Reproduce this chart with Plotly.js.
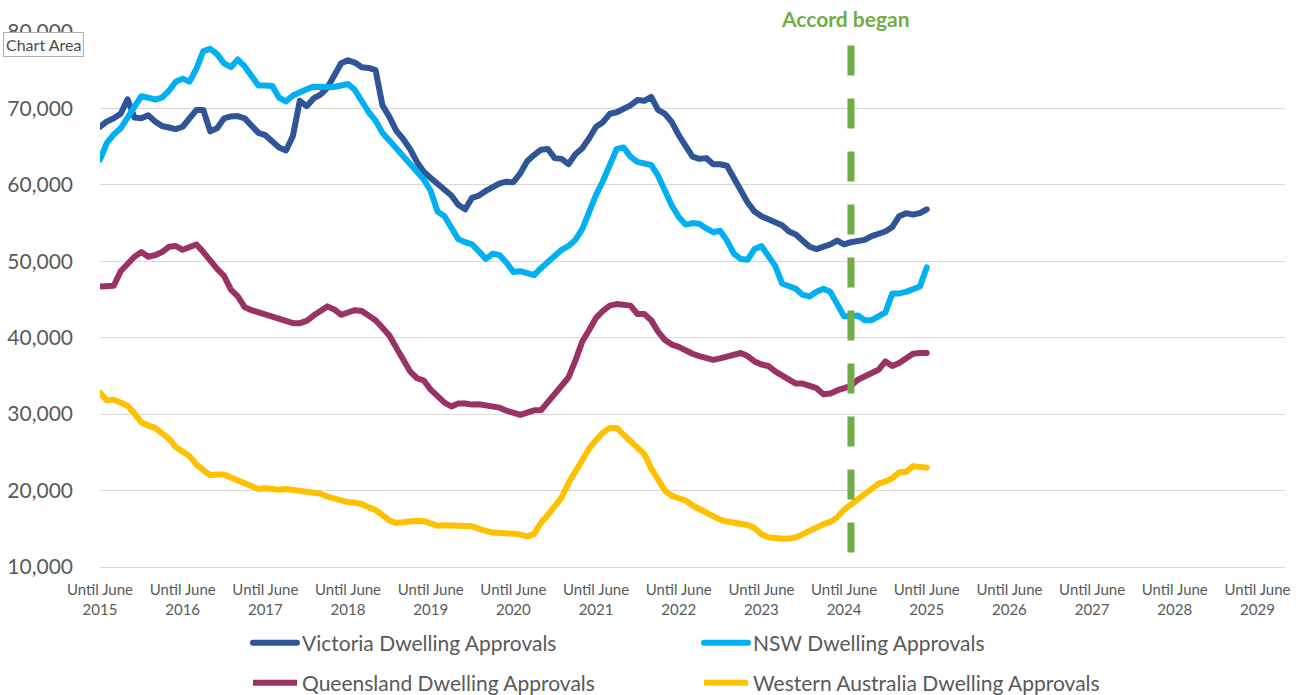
<!DOCTYPE html>
<html>
<head>
<meta charset="utf-8">
<script src="https://cdn.plot.ly/plotly-3.0.1.min.js"></script>
<style>
  html, body { margin: 0; padding: 0; background: #ffffff; }
  #chart { width: 1309px; height: 695px; }
  .scatterlayer path.js-line { stroke-linejoin: round; stroke-linecap: round; }
  .legend path.js-line { stroke-linecap: round; }
</style>
</head>
<body>
<div id="chart"></div>
<script>
// Monthly rolling-annual dwelling approvals, June 2015 .. June 2025
const victoria = [
  67600, 68300, 68700, 69300, 71200, 68800, 68700, 69100, 68300, 67700,
  67500, 67300, 67600, 68600, 69800, 69800, 67000, 67400, 68700, 68950,
  69000, 68700, 67700, 66800, 66500, 65700, 64900, 64500, 66400, 71000,
  70300, 71300, 71800, 72700, 74500, 75900, 76300, 76000, 75400, 75300,
  75000, 70400, 68900, 67100, 66000, 64700, 63000, 61700, 60900, 60200,
  59300, 58600, 57400, 56800, 58300, 58600, 59200, 59800, 60200, 60400,
  60350, 61500, 63100, 63900, 64600, 64700, 63500, 63400, 62700, 64000,
  64800, 66100, 67600, 68200, 69300, 69500, 69900, 70400, 71100, 71000,
  71500, 69800, 69300, 68200, 66500, 65100, 63700, 63400, 63500, 62700,
  62700, 62500, 60700, 59300, 57700, 56500, 55900, 55500, 55200, 54700,
  53900, 53500, 52700, 51900, 51600, 51800, 52200, 52700, 52200, 52500,
  52700, 52800, 53300, 53600, 53900, 54500, 55900, 56300, 56100, 56300,
  56800
];
const nsw = [
  63300, 65500, 66600, 67400, 68800, 70300, 71600, 71400, 71150, 71400,
  72300, 73500, 73900, 73500, 75200, 77500, 77800, 77100, 75900, 75400,
  76400, 75500, 74300, 73000, 73000, 72950, 71400, 70900, 71700, 72000,
  72500, 72850, 72800, 72900, 72800, 73000, 73200, 72400, 70800, 69500,
  68400, 66800, 65800, 64800, 63900, 62900, 61800, 60700, 59200, 56500,
  55900, 54400, 52900, 52500, 52200, 51300, 50300, 51000, 50800, 49800,
  48600, 48700, 48400, 48200, 49100, 49900, 50700, 51500, 52000, 52800,
  54200, 56500, 58700, 60500, 62400, 64700, 64900, 63700, 63000, 62700,
  62600, 61200, 59200, 57300, 55800, 54800, 55000, 54900, 54300, 53800,
  54000, 52700, 51000, 50300, 50200, 51600, 52000, 50800, 49400, 47100,
  46700, 46400, 45600, 45400, 46000, 46400, 46000, 44200, 42800, 42800,
  42900, 42300, 42300, 42800, 43300, 45800, 45800, 46000, 46300, 46700,
  49200
];
const queensland = [
  46700, 46750, 46800, 48700, 49700, 50600, 51200, 50600, 50800, 51200,
  51900, 52000, 51500, 51900, 52200, 51200, 50000, 49000, 48100, 46300,
  45400, 44000, 43600, 43300, 43000, 42600, 42300, 42100, 41900, 41900,
  42200, 42900, 43400, 44100, 43700, 43000, 43300, 43600, 43500, 42800,
  42300, 41300, 40300, 38700, 37200, 35600, 34700, 34400, 33200, 32400,
  31500, 31000, 31400, 31400, 31250, 31300, 31200, 31050, 30850, 30450,
  30200, 29900, 30200, 30500, 30500, 31600, 32900, 33800, 34800, 37000,
  39500, 41000, 42600, 43500, 44200, 44400, 44350, 44200, 43100, 43100,
  42300, 40800, 39700, 39100, 38800, 38300, 37900, 37600, 37300, 37100,
  37300, 37600, 37900, 38000, 37600, 36900, 36500, 36300, 35600, 35000,
  34500, 34000, 34000, 33800, 33400, 32600, 32700, 33100, 33400, 33700,
  34500, 35000, 35300, 35800, 36900, 36300, 36700, 37300, 37900, 38000,
  38000
];
const westernAustralia = [
  32800, 31800, 31900, 31600, 31100, 30100, 28900, 28500, 28200, 27500,
  26800, 25700, 25000, 24500, 23400, 22700, 22000, 22100, 22100, 21700,
  21300, 20900, 20400, 20200, 20300, 20200, 20100, 20200, 20100, 20050,
  19900, 19830, 19600, 19200, 18900, 18700, 18500, 18400, 18250, 17800,
  17450, 16800, 16100, 15750, 15900, 16000, 16050, 16000, 15600, 15400,
  15450, 15400, 15350, 15350, 15330, 15000, 14700, 14500, 14450, 14450,
  14350, 14250, 14000, 14300, 15800, 16800, 18000, 19100, 21000, 22500,
  24200, 25500, 26600, 27600, 28200, 28200, 27300, 26500, 25700, 24800,
  22900, 21400, 20000, 19300, 19100, 18700, 18050, 17600, 17100, 16600,
  16200, 15950, 15850, 15750, 15500, 15100, 14300, 13900, 13730, 13700,
  13720, 13900, 14300, 14800, 15200, 15600, 15900, 16500, 17500, 18200,
  18900, 19500, 20300, 20900, 21200, 21600, 22400, 22450, 23200, 23100,
  23000
];
const seriesNames = [
  "Victoria Dwelling Approvals",
  "NSW Dwelling Approvals",
  "Queensland Dwelling Approvals",
  "Western Australia Dwelling Approvals"
];
const seriesColors = ["#2F5597", "#00B0F0", "#993366", "#FFC000"];
const tickYears = [2015, 2016, 2017, 2018, 2019, 2020, 2021, 2022, 2023, 2024, 2025, 2026, 2027, 2028, 2029];
const accordMonthIndex = 109;   // July 2024, months after June 2015
const accordLabel = "Accord began";
const axisMonths = 172;         // category axis extends to late 2029

const FONT = "Lato, 'Open Sans', sans-serif";
const months = victoria.map((_, i) => i);
const allSeries = [victoria, nsw, queensland, westernAustralia];

const traces = allSeries.map((vals, k) => ({
  type: "scatter",
  mode: "lines",
  x: months.slice(0, vals.length),
  y: vals,
  name: seriesNames[k],
  line: { color: seriesColors[k], width: 6 },
  legend: k < 2 ? "legend" : "legend2",
  hoverinfo: "skip"
}));

const tickvals = tickYears.map((y, i) => i * 12);
const ticktext = tickYears.map(y => "Until June<br>" + y);

const legendCommon = {
  orientation: "h",
  xref: "container",
  yref: "container",
  xanchor: "left",
  yanchor: "middle",
  entrywidth: 392,
  entrywidthmode: "pixels",
  itemwidth: 44,
  bgcolor: "rgba(0,0,0,0)",
  font: { family: FONT, size: 21, color: "#595959" }
};

const layout = {
  width: 1309,
  height: 695,
  margin: { l: 100, r: 24, t: 32, b: 128, autoexpand: false },
  paper_bgcolor: "#ffffff",
  plot_bgcolor: "#ffffff",
  showlegend: true,
  xaxis: {
    range: [0, axisMonths],
    tickvals: tickvals,
    ticktext: ticktext,
    showgrid: false,
    zeroline: false,
    showline: true,
    linecolor: "#d9d9d9",
    linewidth: 1,
    ticks: "",
    tickangle: 0,
    ticklabelstandoff: 9,
    tickfont: { family: FONT, size: 15, color: "#595959" },
    fixedrange: true
  },
  yaxis: {
    range: [10000, 80000],
    dtick: 10000,
    tickformat: ",d",
    showgrid: true,
    gridcolor: "#d9d9d9",
    gridwidth: 1,
    zeroline: false,
    showline: false,
    ticks: "",
    ticklabelstandoff: 26,
    tickfont: { family: FONT, size: 21, color: "#595959" },
    fixedrange: true
  },
  legend: Object.assign({}, legendCommon, { x: 248 / 1309, y: 1 - 643 / 695 }),
  legend2: Object.assign({}, legendCommon, { x: 248 / 1309, y: 1 - 683 / 695 }),
  shapes: [{
    type: "line",
    xref: "x", yref: "y",
    x0: accordMonthIndex, x1: accordMonthIndex,
    y0: 11900, y1: 78500,
    line: { color: "#70AD47", width: 7, dash: "30px,23px" },
    layer: "above"
  }],
  annotations: [
    {
      xref: "x", yref: "paper",
      x: accordMonthIndex, y: 1,
      xanchor: "center", yanchor: "middle",
      xshift: -5, yshift: 14,
      text: "<b>" + accordLabel + "</b>",
      showarrow: false,
      font: { family: FONT, size: 21, color: "#70AD47" }
    },
    {
      xref: "paper", yref: "paper",
      x: -0.082, y: 1,
      xanchor: "left", yanchor: "top",
      yshift: 0,
      text: "Chart Area",
      showarrow: false,
      bgcolor: "#fdfdfd",
      bordercolor: "#b0b0b0",
      borderwidth: 1,
      borderpad: 2,
      font: { family: FONT, size: 16, color: "#4a4a4a" }
    }
  ]
};

Plotly.newPlot("chart", traces, layout, { displayModeBar: false, staticPlot: true });
</script>
</body>
</html>
